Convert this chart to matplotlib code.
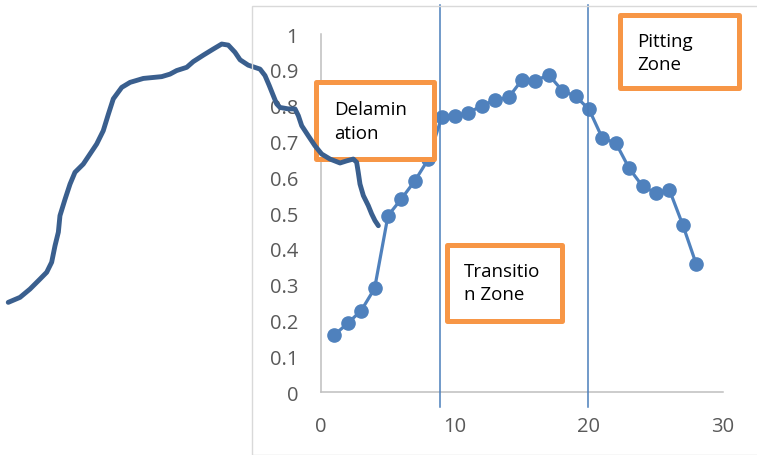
import matplotlib
matplotlib.use("Agg")
import matplotlib.pyplot as plt
from matplotlib.patches import Rectangle

plt.rcParams['font.family'] = ['Open Sans', 'DejaVu Sans']

# Measured series (distance index vs. normalised value)
x_vals = list(range(1, 29))
y_vals = [0.160, 0.193, 0.228, 0.290, 0.493, 0.540, 0.590, 0.650, 0.767, 0.772,
          0.780, 0.800, 0.816, 0.823, 0.872, 0.870, 0.886, 0.842, 0.826, 0.790,
          0.709, 0.696, 0.625, 0.575, 0.556, 0.565, 0.467, 0.358]

# Hand-drawn trend sketch, in the same data units as the chart
sketch_x = [-23.34, -22.46, -21.72, -20.97, -20.47, -20.10, -19.85, -19.60, -19.48,
            -19.10, -18.73, -18.36, -17.74, -17.24, -16.74, -16.25, -15.87, -15.50,
            -14.87, -14.25, -13.26, -11.89, -11.27, -10.77, -10.02, -9.53, -8.78,
            -8.04, -7.41, -6.92, -6.42, -6.04, -5.43, -4.55, -4.18, -3.86, -3.56,
            -3.31, -3.06, -2.44, -1.94, -1.69, -1.44, -0.95, -0.45, 0.05, 0.67,
            1.42, 1.92, 2.41, 2.66, 2.78, 2.91, 3.16, 3.53, 3.78, 4.03, 4.28]
sketch_y = [0.251, 0.265, 0.288, 0.316, 0.335, 0.363, 0.409, 0.447, 0.493,
            0.539, 0.581, 0.614, 0.637, 0.665, 0.693, 0.730, 0.776, 0.819,
            0.851, 0.865, 0.876, 0.881, 0.888, 0.898, 0.907, 0.923, 0.941,
            0.958, 0.972, 0.969, 0.949, 0.928, 0.913, 0.902, 0.884, 0.856, 0.828,
            0.805, 0.795, 0.791, 0.791, 0.772, 0.744, 0.716, 0.688, 0.665, 0.651,
            0.640, 0.646, 0.651, 0.642, 0.614, 0.581, 0.549, 0.521, 0.498, 0.479, 0.465]

# Zone boundaries
zone_bounds = [8.85, 19.95]

x_ticks = [0, 10, 20, 30]
x_tick_labels = ["0", "10", "20", "30"]
y_ticks = [i / 10 for i in range(11)]
y_tick_labels = ["0", "0.1", "0.2", "0.3", "0.4", "0.5", "0.6", "0.7", "0.8", "0.9", "1"]

# Zone labels: (text, box x0, x1, y0, y1, text x, last-line baseline y)
zone_labels = [
    ("Delamin\nation", -0.39, 8.40, 0.651, 0.867, 0.97, 0.710),
    ("Transitio\nn Zone", 9.44, 18.02, 0.198, 0.412, 10.69, 0.260),
    ("Pitting\nZone", 22.30, 31.21, 0.849, 1.052, 23.61, 0.902),
]

SERIES_BLUE = "#4f81bd"
SKETCH_BLUE = "#3a5f8e"
ORANGE = "#f79646"
AXIS_GRAY = "#bfbfbf"
LABEL_GRAY = "#595959"

W, H = 757, 456
fig = plt.figure(figsize=(W / 100, H / 100), dpi=100)

# Chart area frame
fig.patches.append(Rectangle((252 / W, 0.5 / H), 1.0, 1 - 7 / H,
                             transform=fig.transFigure, fill=False,
                             edgecolor="#d9d9d9", linewidth=1.0))

ax = fig.add_axes([321 / W, 1 - 393.3 / H, 402 / W, 358.3 / H])
ax.set_xlim(0, 30)
ax.set_ylim(0, 1)
for side in ("top", "right"):
    ax.spines[side].set_visible(False)
for side in ("left", "bottom"):
    ax.spines[side].set_color(AXIS_GRAY)
    ax.spines[side].set_linewidth(1.1)

ax.set_xticks(x_ticks, x_tick_labels)
ax.set_yticks(y_ticks, y_tick_labels)
ax.tick_params(axis="both", length=0, labelsize=14.5, labelcolor=LABEL_GRAY)
ax.tick_params(axis="x", pad=17)
ax.tick_params(axis="y", pad=16.5)

ax.plot(x_vals, y_vals, color=SERIES_BLUE, linewidth=2.3, marker="o",
        markersize=9.5, markerfacecolor=SERIES_BLUE, markeredgecolor=SERIES_BLUE,
        zorder=3, clip_on=False)

for xb in zone_bounds:
    ax.axvline(xb, ymin=-0.041, ymax=1.081, color="#4a7ebb", linewidth=1.1,
               zorder=4, clip_on=False)

for text, x0, x1, y0, y1, tx, ty in zone_labels:
    ax.add_patch(Rectangle((x0, y0), x1 - x0, y1 - y0, facecolor="white",
                           edgecolor=ORANGE, linewidth=3.6, zorder=5,
                           clip_on=False, joinstyle="round"))
    ax.text(tx, ty, text, fontsize=13.5, color="black", ha="left", va="baseline",
            linespacing=1.4, zorder=6, clip_on=False)

ax.plot(sketch_x, sketch_y, color=SKETCH_BLUE, linewidth=3.5,
        solid_capstyle="round", solid_joinstyle="round", zorder=7, clip_on=False)

fig.savefig("out.png", dpi=100)
